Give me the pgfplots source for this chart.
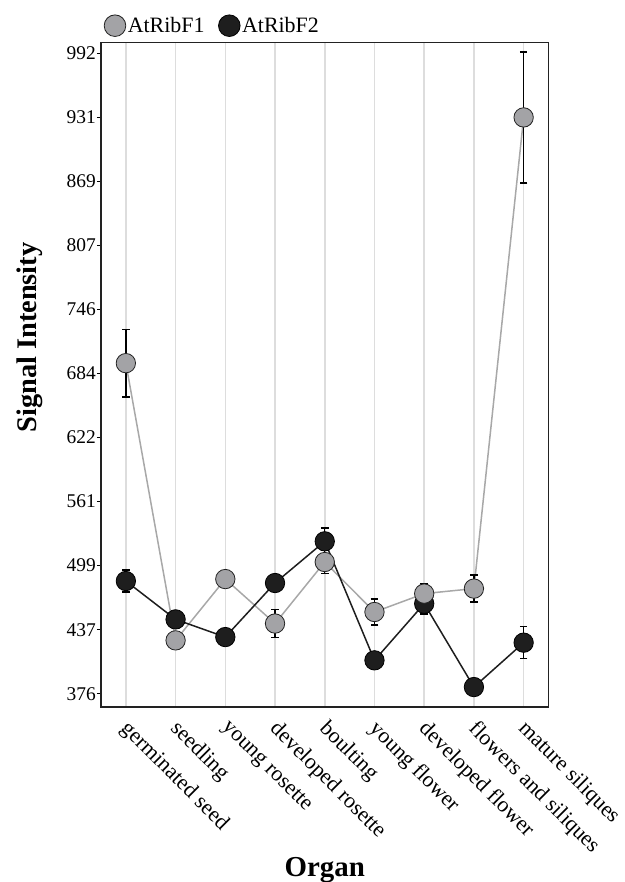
\documentclass[border=0pt]{standalone}
\usepackage{fontspec}
\setmainfont{Liberation Serif}
\usepackage{pgfplots}
\usepackage{pgfplotstable}
\pgfplotsset{compat=1.18}
\definecolor{ptgray}{HTML}{A3A3A6}
\definecolor{lngray}{HTML}{A8A8A8}
\definecolor{ptblack}{HTML}{1E1E1E}
\definecolor{gridc}{HTML}{DDDDDD}
\definecolor{framec}{HTML}{222222}

\pgfplotstableread{
x y e
0 694.0 32.5
1 427.3 4
2 486.3 4
3 443.5 13.7
4 502.7 11
5 454.6 12.5
6 472.3 10
7 477.1 13
8 930.4 63
}\tF
\pgfplotstableread{
x y e
0 484.4 10.5
1 447.5 4
2 430.5 4
3 482.5 5
4 522.6 13
5 408.1 5
6 462.6 10
7 382.4 5
8 425.1 15.5
}\tS

\begin{document}
\begin{tikzpicture}
\useasboundingbox (-101bp,-175.3bp) rectangle (524bp,706.7bp);
\begin{axis}[
  at={(0,0)}, anchor=south west,
  scale only axis, width=447.5bp, height=664bp,
  xmin=-0.5, xmax=8.5, ymin=363.5, ymax=1002.3,
  xtick={0,...,8},
  xticklabels={germinated seed, seedling, young rosette, developed rosette, boulting, young flower, developed flower, flowers and siliques, mature siliques},
  ytick={376,437.6,499.2,560.8,622.4,684,745.6,807.2,868.8,930.4,992},
  yticklabels={376,437,499,561,622,684,746,807,869,931,992},
  xmajorgrids, grid style={gridc, line width=1.5bp},
  x tick style={draw=none},
  ytick pos=left, tick align=outside, major tick length=4bp,
  y tick style={black, line width=1bp},
  axis line style={framec, line width=1.6bp},
  yticklabel style={font=\fontsize{19.5}{20}\selectfont, inner sep=1bp},
  xticklabel style={xshift=5bp, yshift=-8bp, rotate=-45, anchor=north west, inner sep=0pt, font=\fontsize{22}{24}\selectfont},
  every axis x label/.style={at={(axis description cs:0.5,0)}, yshift=-170bp, anchor=base, font=\bfseries\fontsize{29}{30}\selectfont},
  every axis y label/.style={at={(axis description cs:0,0.556)}, xshift=-64bp, rotate=90, anchor=base, font=\bfseries\fontsize{28.5}{30}\selectfont},
  xlabel={Organ}, ylabel={Signal Intensity},
  legend style={draw=none, fill=none, at={(axis description cs:0,1)}, anchor=south west, xshift=3bp, yshift=6bp, legend columns=2, font=\fontsize{22}{24}\selectfont, inner sep=0pt, /tikz/every even column/.append style={column sep=12bp}},
  legend image code/.code={\draw[#1] plot coordinates {(10.8bp,0bp)};},
  clip=false,
]
\addplot[lngray, line width=1.5bp, forget plot] table[x=x, y=y] {\tF};
\addplot[ptblack, line width=1.5bp, forget plot] table[x=x, y=y] {\tS};
\addplot[only marks, mark=none, forget plot, error bars/.cd, y dir=both, y explicit,
  error bar style={black, line width=1.4bp},
  error mark options={black, rotate=90, mark size=3.8bp, line width=1.4bp}]
  table[x=x, y=y, y error=e] {\tF};
\addplot[only marks, mark=none, forget plot, error bars/.cd, y dir=both, y explicit,
  error bar style={black, line width=1.4bp},
  error mark options={black, rotate=90, mark size=3.8bp, line width=1.4bp}]
  table[x=x, y=y, y error=e] {\tS};
\addplot[only marks, mark=*, mark size=9.7bp, mark options={fill=ptblack, draw=black, line width=0.8bp}, forget plot] table[x=x, y=y] {\tS};
\addplot[only marks, mark=*, mark size=9.7bp, mark options={fill=ptgray, draw=framec, line width=0.8bp}, forget plot] table[x=x, y=y] {\tF};
\addlegendimage{only marks, mark=*, mark size=10.8bp, mark options={fill=ptgray, draw=framec, line width=0.8bp}}
\addlegendentry{AtRibF1}
\addlegendimage{only marks, mark=*, mark size=10.8bp, mark options={fill=ptblack, draw=black, line width=0.8bp}}
\addlegendentry{AtRibF2}
\end{axis}
\end{tikzpicture}
\end{document}
